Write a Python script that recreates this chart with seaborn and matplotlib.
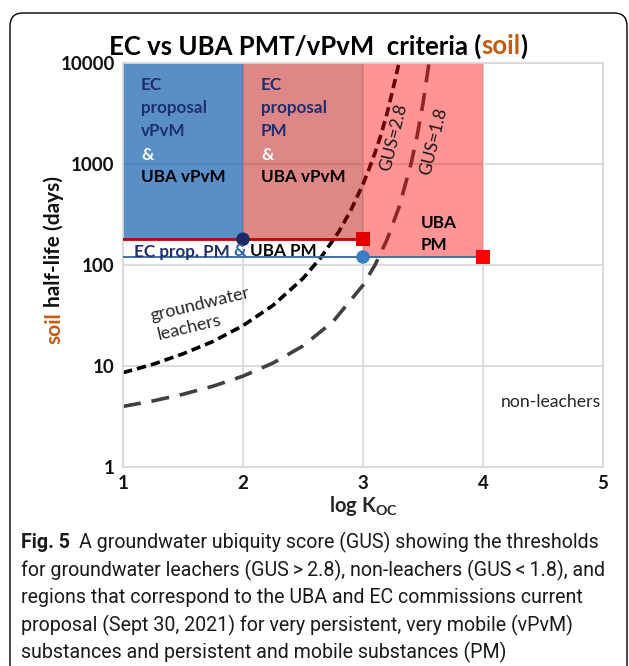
import numpy as np
import pandas as pd
import matplotlib
matplotlib.use("Agg")
import matplotlib.pyplot as plt
import seaborn as sns
from matplotlib.patches import FancyBboxPatch, Rectangle

# ---------------- data ----------------
region_x0 = [1, 2, 3]
region_x1 = [2, 3, 4]
region_ymin = [180, 180, 120]
region_ymax = [10000, 10000, 10000]
region_colors = ["#0051a9", "#b90000", "#ff0000"]
region_alpha = [0.65, 0.47, 0.42]

ec_pm_line_x = [1, 3]
ec_pm_line_y = [180, 180]
uba_pm_line_x = [1, 4]
uba_pm_line_y = [120, 120]

gus28_logkoc = [1.0, 1.25, 1.5, 1.75, 2.0, 2.25, 2.5, 2.65, 2.8, 2.9, 3.0, 3.05, 3.1, 3.15, 3.2, 3.25, 3.3]
gus28_halflife = [8.6, 10.4, 13.2, 17.5, 25.1, 39.8, 73.6, 119, 215, 351, 631, 889, 1290, 1950, 3160, 5560, 10000]

gus18_logkoc = [1.0, 1.25, 1.5, 1.75, 2.0, 2.25, 2.5, 2.75, 3.0, 3.1, 3.2, 3.3, 3.4, 3.45, 3.5, 3.55]
gus18_halflife = [3.98, 4.51, 5.25, 6.31, 7.94, 10.7, 15.8, 27.5, 63.1, 100, 178, 373, 1000, 1870, 3980, 10000]

point_x = [2, 3, 3, 4]
point_y = [180, 180, 120, 120]
point_kind = ["EC vPvM", "EC PM", "UBA vPvM", "UBA PM"]

x_ticks = [1, 2, 3, 4, 5]
y_ticks = [1, 10, 100, 1000, 10000]
y_ticklabels = ["1", "10", "100", "1000", "10000"]

caption_first = "A groundwater ubiquity score (GUS) showing the thresholds"
caption_lines = [
    "for groundwater leachers (GUS\u2009>\u20092.8), non-leachers (GUS\u2009<\u20091.8), and",
    "regions that correspond to the UBA and EC commissions current",
    "proposal (Sept 30, 2021) for very persistent, very mobile (vPvM)",
    "substances and persistent and mobile substances (PM)",
]

# ---------------- style ----------------
sns.set_theme(style="white")
FONT = ["Lato", "DejaVu Sans"]
plt.rcParams["font.family"] = FONT
W, H = 629, 666
fig = plt.figure(figsize=(W / 100, H / 100), dpi=100)
L, R, T, B = 123, 603, 63, 467
ax = fig.add_axes([L / W, 1 - B / H, (R - L) / W, (B - T) / H])
ax.set_yscale("log")
ax.set_xlim(1, 5)
ax.set_ylim(1, 10000)

grid_c = "#d9d9d9"
ax.set_xticks(x_ticks)
ax.set_yticks(y_ticks)
ax.set_yticklabels(y_ticklabels)
ax.minorticks_off()
ax.grid(True, color=grid_c, lw=1.3, zorder=0)
ax.set_axisbelow(True)
for s in ax.spines.values():
    s.set_color(grid_c)
    s.set_linewidth(1.3)
ax.tick_params(length=0, labelsize=13.5, pad=6, labelcolor="#111111")
for lab in ax.get_xticklabels() + ax.get_yticklabels():
    lab.set_fontweight("bold")

# GUS curves (under translucent regions)
df28 = pd.DataFrame({"logKoc": gus28_logkoc, "t": gus28_halflife})
df18 = pd.DataFrame({"logKoc": gus18_logkoc, "t": gus18_halflife})
sns.lineplot(data=df28, x="logKoc", y="t", ax=ax, color="black", lw=2.6,
             zorder=1.5, sort=False)
ax.lines[-1].set_dashes((2.6, 1.4))
sns.lineplot(data=df18, x="logKoc", y="t", ax=ax, color="#404040", lw=2.6,
             zorder=1.5, sort=False)
ax.lines[-1].set_dashes((5, 3))

# regions
for x0, x1, y0, y1, c, a in zip(region_x0, region_x1, region_ymin, region_ymax, region_colors, region_alpha):
    ax.add_patch(Rectangle((x0, y0), x1 - x0, y1 - y0, facecolor=c, alpha=a,
                           edgecolor="none", zorder=2))

# threshold lines
ax.plot(uba_pm_line_x, uba_pm_line_y, color="#41719c", lw=1.4, zorder=3)
ax.plot(ec_pm_line_x, ec_pm_line_y, color="#c00000", lw=2.0, zorder=3)

dfp = pd.DataFrame({"x": point_x, "y": point_y, "kind": point_kind})
sns.scatterplot(data=dfp, x="x", y="y", hue="kind", style="kind", ax=ax,
                palette={"EC vPvM": "#1a2a66", "EC PM": "#e00000", "UBA vPvM": "#3a7fc4", "UBA PM": "#ff0000"},
                markers={"EC vPvM": "o", "EC PM": "s", "UBA vPvM": "o", "UBA PM": "s"},
                s=95, edgecolor="none", legend=False, zorder=4, clip_on=False)
ax.set_xlabel("")
ax.set_ylabel("")

fig.canvas.draw()
rend = fig.canvas.get_renderer()


def disp(px, py):
    return px, H - py


def width_of(s, size, weight, family=FONT):
    t = fig.text(0, 0, s, fontsize=size, fontweight=weight, family=family)
    w = t.get_window_extent(renderer=rend).width
    t.remove()
    return w


def pieces_h(px, py, pieces, size, ha="left", family=FONT, gap=0):
    """pieces: list of (text, color, weight); px = left (or center), py = vertical center"""
    ws = [width_of(s, size, w, family) for s, c, w in pieces]
    total = sum(ws) + gap * (len(pieces) - 1)
    x = px - total / 2 if ha == "center" else px
    X, Y = disp(x, py)
    for (s, c, w), wd in zip(pieces, ws):
        fig.text(X / W, Y / H, s, color=c, fontsize=size, fontweight=w, family=family,
                 ha="left", va="center_baseline")
        X += wd + gap


def pieces_v(px, py, pieces, size, gap=0):
    ws = [width_of(s, size, w) for s, c, w in pieces]
    total = sum(ws) + gap * (len(pieces) - 1)
    X, Y = disp(px, py)
    Y -= total / 2
    for (s, c, w), wd in zip(pieces, ws):
        fig.text(X / W, Y / H, s, color=c, fontsize=size, fontweight=w, rotation=90,
                 rotation_mode="anchor", ha="left", va="center_baseline")
        Y += wd + gap


ORANGE = "#c55a11"
NAVY = "#1f2f6e"

# title
pieces_h(318, 44, [("EC vs UBA PMT/vPvM  criteria (", "black", "bold"),
                   ("soil", ORANGE, "bold"), (")", "black", "bold")], 18.5, ha="center")
# y label
pieces_v(52, 260, [("soil", ORANGE, "bold"), ("half-life (days)", "#111111", "bold")], 15, gap=5)
# x label
X, Y = disp(363, 506)
fig.text(X / W, Y / H, r"log K$_\mathregular{OC}$", fontsize=14.5, fontweight="bold",
         ha="center", va="center")

# region labels
RS = 12.3
rows = [(83, "EC", NAVY), (107, "proposal", NAVY), (130, "vPvM", NAVY), (153, "&", "white"), (175, "UBA vPvM", "black")]
for py, s, c in rows:
    pieces_h(141, py, [(s, c, "bold")], RS)
rows = [(83, "EC", NAVY), (107, "proposal", NAVY), (130, "PM", NAVY), (153, "&", "white"), (175, "UBA vPvM", "black")]
for py, s, c in rows:
    pieces_h(261, py, [(s, c, "bold")], RS)
pieces_h(134, 250, [("EC prop. PM", NAVY, "bold"), ("&", "#2e5fa0", "bold"), ("UBA PM", "black", "bold")],
         RS, gap=4)
pieces_h(421, 222, [("UBA", "black", "bold")], RS)
pieces_h(421, 244, [("PM", "black", "bold")], RS)

# curve labels
for (px, py, s) in [(394, 137, "GUS=2.8"), (434, 141, "GUS=1.8")]:
    X, Y = disp(px, py)
    fig.text(X / W, Y / H, s, fontsize=12.5, rotation=76, ha="center", va="center",
             rotation_mode="anchor", color="#1a1a1a")
for (px, py, s) in [(200, 304, "groundwater"), (189, 327, "leachers")]:
    X, Y = disp(px, py)
    fig.text(X / W, Y / H, s, fontsize=13, rotation=13.5, ha="center", va="center",
             rotation_mode="anchor", color="#262626")
X, Y = disp(551, 402)
fig.text(X / W, Y / H, "non-leachers", fontsize=12.7, ha="center", va="center", color="#262626")

# caption (font size fitted so the long line spans the reference width)
CAP = ["Roboto", "DejaVu Sans"]
cap_size = 12.0 * 582 / width_of(caption_lines[0], 12.0, "normal", CAP)
pieces_h(21, 540, [("Fig. 5", "#1a1a1a", "bold"), (caption_first, "#1a1a1a", "normal")],
         cap_size, family=CAP, gap=9)
for i, line in enumerate(caption_lines):
    pieces_h(21, 568 + 27.5 * i, [(line, "#1a1a1a", "normal")], cap_size, family=CAP)

# border
border = FancyBboxPatch((10 / W, 1 - 700 / H), 617 / W, 687 / H,
                        boxstyle="round,pad=0,rounding_size=0.02",
                        transform=fig.transFigure, fill=False, edgecolor="black", lw=1.0)
fig.patches.append(border)

fig.savefig("out.png", dpi=100)
